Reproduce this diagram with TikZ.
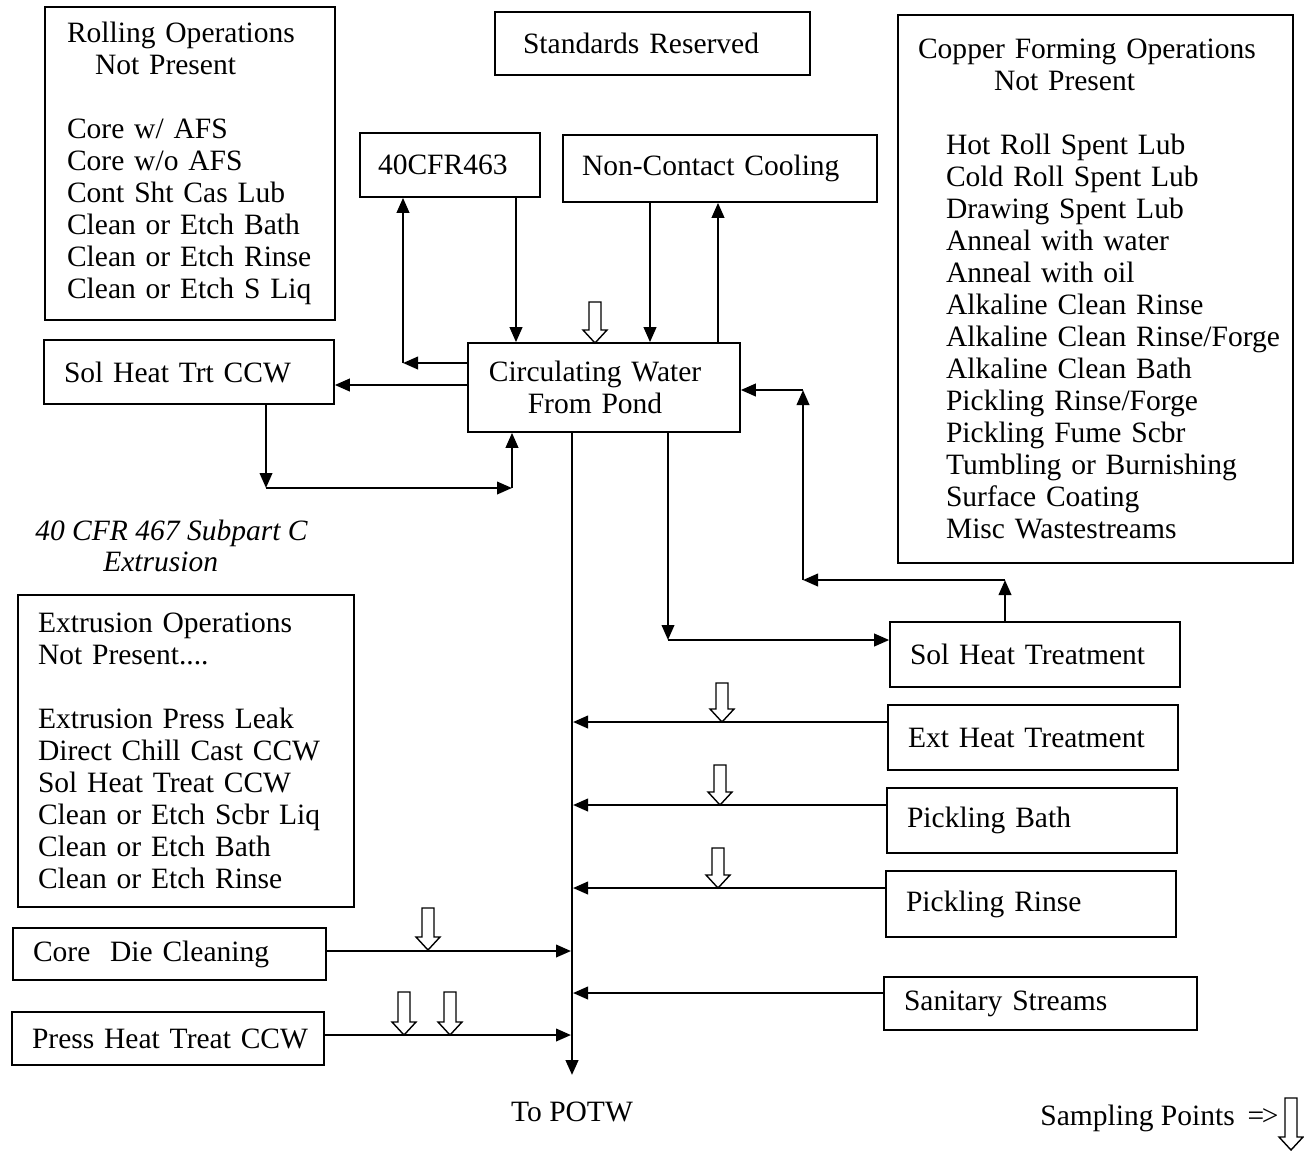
\documentclass[tikz,border=0pt]{standalone}
\usepackage{fontspec}
\setmainfont{Liberation Serif}
\usetikzlibrary{arrows.meta}
\newcommand\cuind{\hspace*{0.56cm}}
\newcommand\samparrow[3]{\draw[samp] (#1-6,#2) -- (#1+6,#2) -- (#1+6,#3-13) -- (#1+12,#3-13) -- (#1,#3) -- (#1-12,#3-13) -- (#1-6,#3-13) -- cycle;}
\begin{document}
\begin{tikzpicture}[x=0.02cm,y=-0.02cm,
  font=\fontsize{16.8}{18.2}\selectfont,
  box/.style={draw,line width=0.95pt,inner xsep=0.4cm,inner ysep=0pt,align=left},
  arr/.style={line width=1.3pt,-{Triangle[length=0.3cm,width=0.25cm]}},
  samp/.style={draw,fill=white,line width=0.8pt},
  lbl/.style={inner sep=0pt}]
\useasboundingbox[fill=white] (0,0) rectangle (1304,1150);

% boxes
\node[box,minimum width=5.8cm,minimum height=6.26cm,text width=4.92cm,inner xsep=0.44cm] (roll) at (190,163.5)
 {Rolling Operations\\\hspace*{0.56cm}Not Present\\~\\Core w/ AFS\\Core w/o AFS\\Cont Sht Cas Lub\\Clean or Etch Bath\\Clean or Etch Rinse\\Clean or Etch S Liq};
\node[box,minimum width=6.3cm,minimum height=1.26cm,text width=5.18cm,inner xsep=0.56cm] (std) at (652.5,43.5) {Standards Reserved};
\node[box,minimum width=7.9cm,minimum height=10.96cm,text width=7.1cm] (cu) at (1095.5,289)
 {Copper Forming Operations\\\hspace*{1.52cm}Not Present\\~\\
  \cuind Hot Roll Spent Lub\\\cuind Cold Roll Spent Lub\\\cuind Drawing Spent Lub\\\cuind Anneal with water\\
  \cuind Anneal with oil\\\cuind Alkaline Clean Rinse\\\cuind\mbox{Alkaline Clean Rinse/Forge}\\\cuind Alkaline Clean Bath\\
  \cuind Pickling Rinse/Forge\\\cuind Pickling Fume Scbr\\\cuind Tumbling or Burnishing\\\cuind Surface Coating\\
  \cuind Misc Wastestreams};
\node[box,minimum width=3.6cm,minimum height=1.28cm,text width=2.88cm,inner xsep=0.36cm] (cfr) at (450,165) {40CFR463};
\node[box,minimum width=6.28cm,minimum height=1.34cm,text width=5.52cm,inner xsep=0.38cm] (ncc) at (720,168.5) {Non-Contact Cooling};
\node[box,minimum width=5.44cm,minimum height=1.78cm,text width=4.64cm,align=center] (circ) at (604,387.5)
 {\hspace*{-0.36cm}Circulating Water\\\hspace*{-0.36cm}From Pond};
\node[box,minimum width=5.8cm,minimum height=1.28cm,text width=5cm] (shtccw) at (189,372) {Sol Heat Trt CCW};
\node[box,minimum width=6.72cm,minimum height=6.24cm,text width=5.92cm] (ext) at (186,751)
 {Extrusion Operations\\Not Present....\\~\\Extrusion Press Leak\\Direct Chill Cast CCW\\Sol Heat Treat CCW\\Clean or Etch Scbr Liq\\Clean or Etch Bath\\Clean or Etch Rinse};
\node[box,minimum width=6.26cm,minimum height=1.04cm,text width=5.46cm] (core) at (169.5,954) {Core\ \ Die Cleaning};
\node[box,minimum width=6.24cm,minimum height=1.06cm,text width=5.44cm,inner xsep=0.36cm] (press) at (168,1038.5) {\mbox{Press Heat Treat CCW}};
\node[box,minimum width=5.8cm,minimum height=1.3cm,text width=5cm] (sht) at (1035,654.5) {Sol Heat Treatment};
\node[box,minimum width=5.8cm,minimum height=1.3cm,text width=5cm] (eht) at (1033,737.5) {Ext Heat Treatment};
\node[box,minimum width=5.8cm,minimum height=1.3cm,text width=5cm] (pb) at (1032,820.5) {Pickling Bath};
\node[box,minimum width=5.8cm,minimum height=1.32cm,text width=5cm] (pr) at (1031,904) {Pickling Rinse};
\node[box,minimum width=6.26cm,minimum height=1.06cm,text width=5.46cm] (san) at (1040.5,1003.5) {Sanitary Streams};

% labels
\node[lbl,anchor=west,align=left,font=\fontsize{16.8}{17.6}\selectfont\itshape] (subc) at (35,546)
 {40 CFR 467 Subpart C\\\hspace*{1.36cm}Extrusion};
\node[lbl] (potw) at (572,1112) {To POTW};
\node[lbl,anchor=west] (spl) at (1040,1118) {Sampling Points\hspace{0.26cm}=\kern-1.5pt>};

% helper coordinates
\coordinate (xa) at (516,0);
\coordinate (xb) at (650,0);
\coordinate (xc) at (718,0);

% 40CFR463 loop
\coordinate (k1) at (403,363);
\draw[arr] (circ.west |- k1) -- (k1);
\draw[arr] (k1) -- (k1 |- cfr.south);
\draw[arr] (cfr.south -| xa) -- (circ.north -| xa);
% non-contact cooling
\draw[arr] (ncc.south -| xb) -- (circ.north -| xb);
\draw[arr] (circ.north -| xc) -- (ncc.south -| xc);
% sol heat trt ccw loop
\coordinate (k2) at (0,385);
\draw[arr] (circ.west |- k2) -- (shtccw.east |- k2);
\coordinate (k3) at (266,488);
\coordinate (k4) at (512,488);
\draw[arr] (shtccw.south -| k3) -- (k3);
\draw[arr] (k3) -- (k4);
\draw[arr] (k4) -- (circ.south -| k4);
% sol heat treatment loop
\coordinate (k5) at (1005,580);
\coordinate (k6) at (803,580);
\coordinate (k7) at (803,390);
\draw[arr] (sht.north -| k5) -- (k5);
\draw[arr] (k5) -- (k6);
\draw[arr] (k6) -- (k7);
\draw[arr] (k7) -- (circ.east |- k7);
\coordinate (k8) at (668,640);
\draw[arr] (circ.south -| k8) -- (k8);
\draw[arr] (k8) -- (sht.west |- k8);
% main line to POTW
\coordinate (out) at (572,1075);
\draw[arr,line width=1.6pt] (circ.south -| out) -- (out);
\coordinate (m1) at (573,722);
\coordinate (m2) at (573,805);
\coordinate (m3) at (573,888);
\coordinate (m4) at (573,993);
\coordinate (m5) at (571,951);
\coordinate (m6) at (571,1035);
\draw[arr] (eht.west |- m1) -- (m1);
\draw[arr] (pb.west |- m2) -- (m2);
\draw[arr] (pr.west |- m3) -- (m3);
\draw[arr] (san.west |- m4) -- (m4);
\draw[arr] (core.east |- m5) -- (m5);
\draw[arr] (press.east |- m6) -- (m6);

% sampling points
\samparrow{595}{302}{343}
\samparrow{722}{683}{722}
\samparrow{720}{765}{805}
\samparrow{718}{848}{888}
\samparrow{428}{908}{950}
\samparrow{404}{992}{1035}
\samparrow{450}{992}{1035}
\samparrow{1291}{1098}{1150}
\end{tikzpicture}
\end{document}
